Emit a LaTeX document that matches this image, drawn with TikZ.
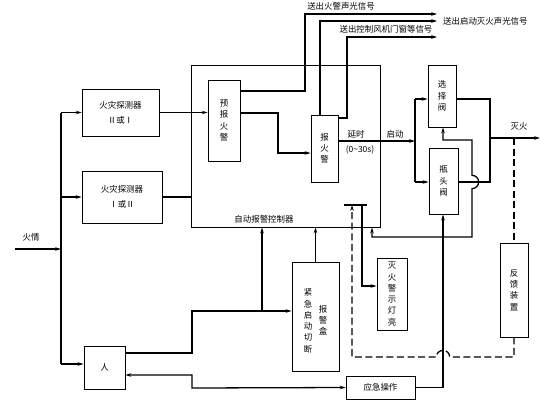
\documentclass[tikz,border=0pt]{standalone}
\usepackage{fontspec}
\setmainfont{Noto Sans CJK SC}
\usetikzlibrary{arrows.meta}

\begin{document}
\begin{tikzpicture}[x=0.03cm, y=-0.03cm,
  font=\fontsize{7.2}{9.6}\selectfont,
  >={Stealth[length=5pt,width=3pt]},
  box/.style={draw, line width=0.7pt, inner sep=0pt, align=center},
  txt/.style={inner sep=0pt, align=center},
  wire/.style={line width=1.1pt},
  fb/.style={line width=1.1pt, dash pattern=on 6pt off 3pt}]
\useasboundingbox (0,0) rectangle (560,417);

% blocks
\node[box, minimum width=2.31cm, minimum height=1.41cm] (det1) at (120.5,112.5) {火灾探测器\\[3pt]Ⅱ或Ⅰ};
\node[box, minimum width=2.4cm, minimum height=1.56cm] (det2) at (122,197) {火灾探测器\\[3pt]Ⅰ或Ⅱ};
\node[box, minimum width=5.67cm, minimum height=4.86cm] (ctrl) at (285.5,146) {};
\node[txt] (ctrltxt) at (264,219) {自动报警控制器};
\node[box, minimum width=0.96cm, minimum height=2.43cm] (yb) at (224,120.5) {预\\报\\火\\警};
\node[box, minimum width=0.81cm, minimum height=2.01cm] (bh) at (324.5,148.5) {报\\火\\警};
\node[box, minimum width=0.84cm, minimum height=1.86cm] (xz) at (442,96) {选\\择\\阀};
\node[box, minimum width=0.87cm, minimum height=1.98cm] (pt) at (443.5,181) {瓶\\头\\阀};
\node[box, minimum width=0.84cm, minimum height=2.82cm] (fk) at (514,290) {反\\馈\\装\\置};
\node[box, minimum width=0.9cm, minimum height=2.16cm] (dl) at (392,294) {灭\\火\\警\\示\\灯\\亮};
\node[box, minimum width=1.41cm, minimum height=3.27cm] (jj) at (315.5,316.5) {};
\node[txt] (jjl) at (308,321) {紧\\急\\启\\动\\切\\断};
\node[txt] (jjr) at (323,320) {报\\警\\盒};
\node[box, minimum width=2.07cm, minimum height=0.69cm] (yj) at (380.5,387.5) {应急操作};
\node[box, minimum width=1.23cm, minimum height=1.29cm] (ren) at (104.5,367.5) {人};

\coordinate (fire) at (15,249);
\coordinate (bus) at (61,249);
\coordinate (o1) at (437,14);
\coordinate (o2) at (437,21);
\coordinate (o3) at (437,37);
\coordinate (out) at (540,138);
\coordinate (tl) at (344,205);
\coordinate (tr) at (367,205);
\coordinate (tin) at (352,205);
\coordinate (tout) at (362,205);

% inputs
\draw[wire,->] (fire) -- (bus) node[pos=0.35, above=3pt] {火情};
\draw[wire] (61,112.5) -- (61,364);
\draw[wire,->] (61,112.5) -- (det1.west);
\draw[wire,->] (61,197) -- (det2.west);
\draw[wire,->] (61,364) -- (ren.west |- 61,364);
\draw[wire,->] (det1.east) -- (det1.east -| yb.west);
\draw[wire] (det2.east) -- (det2.east -| ctrl.west);

% signals out
\draw[wire,->] (yb.east |- 0,91) -| (305,14) -- (o1);
\draw[wire,->] (yb.east |- 0,113) -| (278,153) -- (bh.west |- 0,153);
\draw[wire,->] (bh.north -| 320,0) -- (320,21) -- (o2);
\draw[wire,->] (bh.east |- 0,118) -| (347,37) -- (o3);
\node[txt] at (341,6) {送出火警声光信号};
\node[txt, anchor=west] at (443,21) {送出启动灭火声光信号};
\node[txt] at (386,29) {送出控制风机门窗等信号};

% release
\draw[wire,->] (bh.east |- 0,141) -- (415,141);
\node[txt] at (356,134) {延时};
\node[txt] at (360,150) {(0\textasciitilde 30s)};
\node[txt] at (395,134) {启动};
\draw[wire] (415,99) -- (415,182);
\draw[wire,->] (415,99) -- (xz.west |- 0,99);
\draw[wire,->] (415,182) -- (pt.west |- 0,182);
\draw[wire] (xz.east |- 0,99) -| (490,182) -- (pt.east |- 0,182);
\draw[wire,->] (490,138) -- (out) node[pos=0.58, above=3pt] {灭火};
\draw[wire,<->] (xz.south -| 443,0) |- (472,140) -- (472,175.3)
  arc[start angle=90, end angle=-90, radius=0.2cm] -- (472,237) -| (ctrl.south -| 372,0);

% feedback
\draw[fb] (490,138) ++(24,0) -- (fk.north);
\draw[fb,->] (fk.south) |- (449.7,357) arc[start angle=0, end angle=180, radius=0.2cm] -| (tin);
\draw[wire] (tl) -- (tr);
\draw[wire,->] (tout) |- (dl.west |- 0,286);

% manual
\draw[wire,->] (ren.east |- 0,353) -| (192,311) -- (jj.west |- 0,311);
\draw[wire,->] (262,311) -- (ctrl.south -| 262,0);
\draw[wire,->] (jj.north) -- (jj.north |- ctrl.south);
\draw[wire,<->] (ren.east |- 0,375) -| (192,388) -- (yj.west);
\draw[wire,->] (yj.east) -| (pt.south -| 443,0);
\end{tikzpicture}
\end{document}
